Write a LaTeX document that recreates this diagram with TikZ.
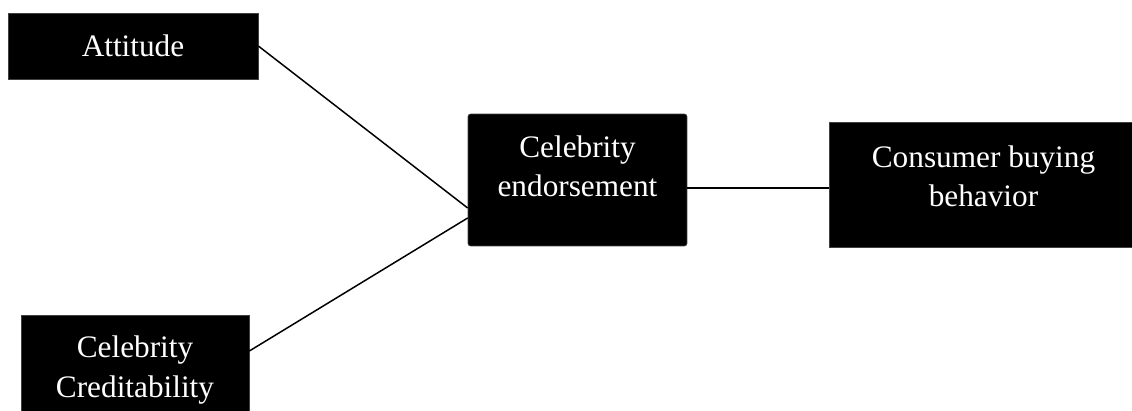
\documentclass[tikz,border=0pt]{standalone}
\usepackage{fontspec}
\setmainfont{Liberation Serif}
\begin{document}
\begin{tikzpicture}[x=0.02cm, y=-0.02cm,
    box style/.style={fill=black, draw=black!75, line width=0.4pt, inner sep=0pt},
    label style/.style={text=white, align=center, inner sep=0pt,
        font=\fontsize{17.8}{22.4}\selectfont},
    link style/.style={draw=black, line width=0.85pt}]
    \useasboundingbox (0,0) rectangle (1132,410);

    % boxes
    \node[box style, label style, minimum width=5cm, minimum height=1.32cm] (att) at (133,46) {Attitude};
    \node[box style, label style, minimum width=4.56cm, minimum height=2.2cm] (cred) at (135,370) {Celebrity\\Creditability};
    \node[box style, rounded corners=1.5pt, minimum width=4.38cm, minimum height=2.64cm] (endo) at (577.5,180) {};
    \node[label style] (endo text) at (577.5,166) {Celebrity\\endorsement};
    \node[box style, minimum width=6.18cm, minimum height=2.5cm] (cons) at (983.5,184.5) {};
    \node[label style] (cons text) at (983.5,176) {Consumer buying\\behavior};

    % end points
    \coordinate (cred out) at ([yshift=0.38cm]cred.east);
    \coordinate (endo in1) at ([yshift=-0.56cm]endo.west);
    \coordinate (endo in2) at ([yshift=-0.76cm]endo.west);
    \coordinate (endo out) at ([yshift=-0.16cm]endo.east);
    \coordinate (cons in) at (endo out -| cons.west);

    \draw[style=link style] (att.east) -- (endo in1);
    \draw[style=link style] (cred out) -- (endo in2);
    \draw[style=link style] (endo out) -- (cons in);

\end{tikzpicture}
\end{document}
